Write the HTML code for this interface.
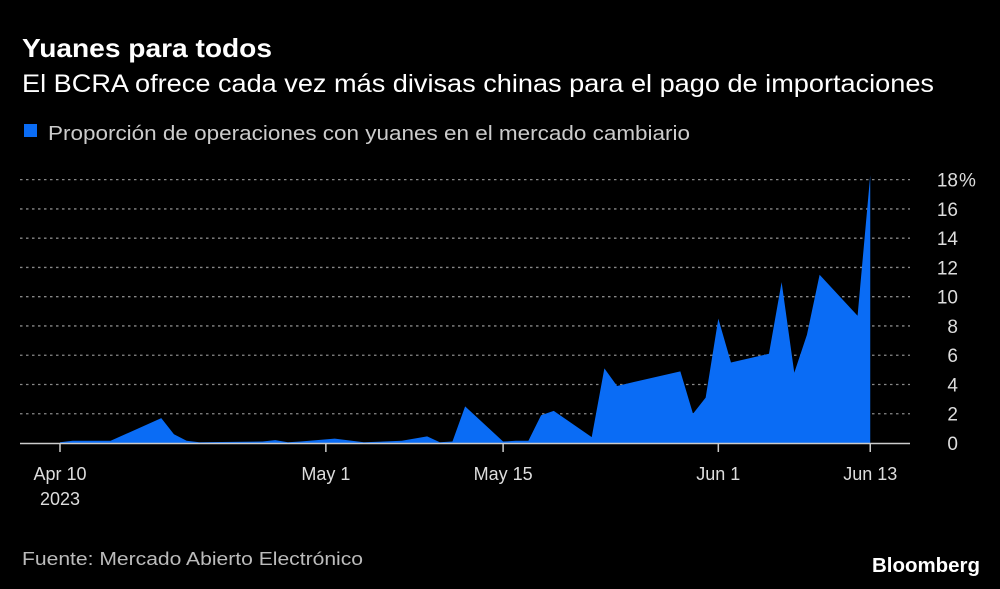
<!DOCTYPE html>
<html><head><meta charset="utf-8"><style>
html,body{margin:0;padding:0;background:#000;}
svg{display:block;font-family:"Liberation Sans",sans-serif;}
</style></head><body>
<svg id="chart" width="1000" height="589" viewBox="0 0 1000 589" xmlns="http://www.w3.org/2000/svg">
<rect width="1000" height="589" fill="#000"/>
<text x="22" y="57" fill="#fff" font-size="26" font-weight="bold" textLength="250" lengthAdjust="spacingAndGlyphs">Yuanes para todos</text>
<text x="22" y="92" fill="#fff" font-size="25" textLength="912" lengthAdjust="spacingAndGlyphs">El BCRA ofrece cada vez más divisas chinas para el pago de importaciones</text>
<rect x="24" y="124" width="13" height="13" fill="#0a6cf5"/>
<text x="48" y="140" fill="#ccc" font-size="20" textLength="642" lengthAdjust="spacingAndGlyphs">Proporción de operaciones con yuanes en el mercado cambiario</text>
<g id="grid"></g>
<g id="area"></g>
<g id="xaxis"></g>
<g id="yaxis"></g>
<text x="22" y="565" fill="#bbb" font-size="18" textLength="341" lengthAdjust="spacingAndGlyphs">Fuente: Mercado Abierto Electrónico</text>
<text x="980" y="572" fill="#fff" font-size="20" font-weight="bold" text-anchor="end" textLength="108" lengthAdjust="spacingAndGlyphs">Bloomberg</text>
</svg>
<script>
const days = [0,1,4,8,9,10,11,16,17,18,19,21.7,24,27,29,30,31,32,35,36,37,38,39,42,43,44,49,50,51,52,53,56,57,58,59,60,63,64];
const values = [0.05,0.15,0.15,1.7,0.6,0.15,0.05,0.1,0.2,0.05,0.1,0.3,0.05,0.15,0.45,0.05,0.1,2.5,0.1,0.15,0.15,1.9,2.2,0.4,5.1,3.9,4.9,2.0,3.1,8.5,5.5,6.1,11.0,4.8,7.4,11.5,8.7,18.3];
const yTicks = [0,2,4,6,8,10,12,14,16,18];
const xTickDays = [0,21,35,52,64];
const xTickLabels = ["Apr 10","May 1","May 15","Jun 1","Jun 13"];
const NS="http://www.w3.org/2000/svg";
const X = d => 60 + d*12.66;
const Y = v => 443 - v*14.63;
function mk(tag, attrs, parent){const e=document.createElementNS(NS,tag);for(const k in attrs)e.setAttribute(k,attrs[k]);document.getElementById(parent).appendChild(e);return e;}
yTicks.forEach((t,i)=>{
  if(t>0){const l=mk('line',{x1:20,x2:910,y1:Y(t),y2:Y(t),stroke:'#888','stroke-width':1.3,'stroke-dasharray':'2.5 3.5'},'grid');
  
  }
  const tx=mk('text',{x:958,y:Y(t)+7,fill:'#ddd','font-size':19,'text-anchor':'end'},'yaxis');
  tx.textContent=String(t);
  
  
  if(i===yTicks.length-1){const p=mk('text',{x:959,y:Y(t)+7,fill:'#ddd','font-size':19},'yaxis');p.textContent='%';
  
  }
});
let d='M'+X(days[0])+','+Y(0);
days.forEach((dd,i)=>{d+=' L'+X(dd)+','+Y(values[i]);});
d+=' L'+X(days[days.length-1])+','+Y(0)+' Z';
const a=mk('path',{d:d,fill:'#0a6cf5'},'area');


const ax=mk('line',{x1:20,x2:910,y1:443.5,y2:443.5,stroke:'#ccc','stroke-width':1.5},'xaxis');


xTickDays.forEach((dd,i)=>{
  const tk=mk('line',{x1:X(dd),x2:X(dd),y1:443,y2:452,stroke:'#ccc','stroke-width':1.5},'xaxis');
  
  
  const tx=mk('text',{x:X(dd),y:480,fill:'#ddd','font-size':18,'text-anchor':'middle'},'xaxis');
  tx.textContent=xTickLabels[i];
  
  
});
const yr=mk('text',{x:X(0),y:505,fill:'#ddd','font-size':18,'text-anchor':'middle'},'xaxis');
yr.textContent='2023';


</script>
</body></html>
